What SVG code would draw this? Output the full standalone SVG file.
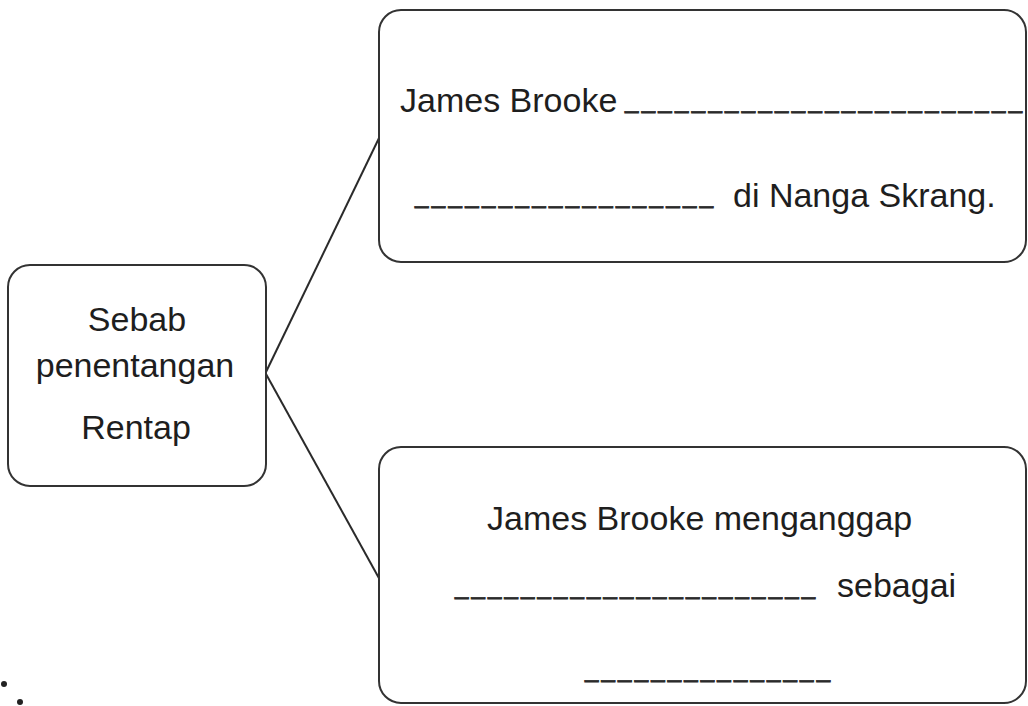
<svg xmlns="http://www.w3.org/2000/svg" width="1028" height="706" viewBox="0 0 1028 706">
<style>
.box{fill:#fff;stroke:#333;stroke-width:2}
.t{font-family:"Liberation Sans",Arial,sans-serif;font-size:34px;fill:#1e1e1e}
.u{font-family:"Liberation Sans",Arial,sans-serif;font-size:24px;fill:#2a2a2a;stroke:#2a2a2a;stroke-width:0.8}
.c{stroke:#2a2a2a;stroke-width:2;fill:none}
</style>
<rect width="1028" height="706" fill="#fff"/>
<g id="connectors">
<line class="c" x1="266" y1="372" x2="380" y2="136"/>
<line class="c" x1="266" y1="374" x2="380" y2="580"/>
</g>
<g id="node-root">
<rect class="box" x="8" y="265" width="258" height="221" rx="22"/>
<text class="t" x="137" y="331" text-anchor="middle">Sebab</text>
<text class="t" x="135" y="377" text-anchor="middle">penentangan</text>
<text class="t" x="136" y="439" text-anchor="middle">Rentap</text>
</g>
<g id="node-top">
<rect class="box" x="379" y="10" width="647" height="252" rx="22"/>
<text class="t" x="400" y="112">James Brooke</text>
<text class="u" x="625" y="108" textLength="397" lengthAdjust="spacing">________________________</text>
<text class="u" x="415" y="203" textLength="298" lengthAdjust="spacing">__________________</text>
<text class="t" x="733" y="207">di Nanga Skrang.</text>
</g>
<g id="node-bottom">
<rect class="box" x="379" y="447" width="647" height="256" rx="22"/>
<text class="t" x="487" y="530">James Brooke menganggap</text>
<text class="u" x="455" y="594" textLength="360" lengthAdjust="spacing">______________________</text>
<text class="t" x="837" y="597">sebagai</text>
<text class="u" x="585" y="677" textLength="245" lengthAdjust="spacing">_______________</text>
</g>
<circle cx="4" cy="684" r="3" fill="#222"/>
<circle cx="20" cy="702" r="3" fill="#222"/>
</svg>
